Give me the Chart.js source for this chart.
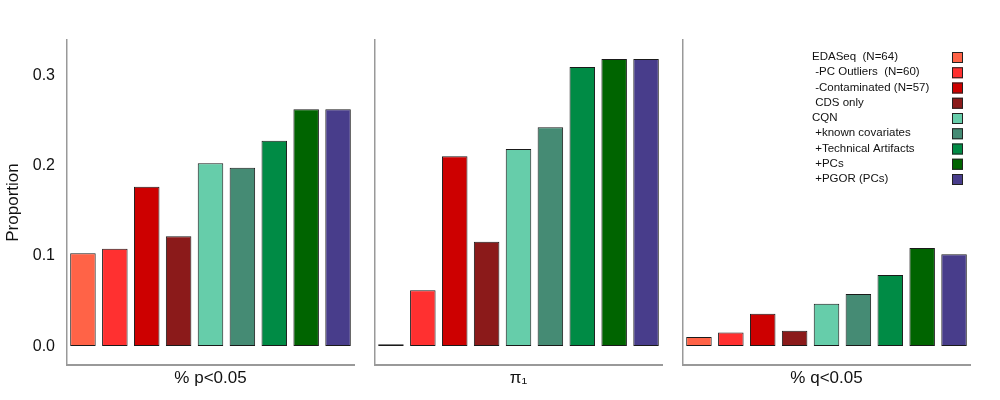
<!DOCTYPE html>
<html>
<head>
<meta charset="utf-8">
<script src="https://cdn.jsdelivr.net/npm/chart.js@4/dist/chart.umd.min.js"></script>
<style>
  body { margin: 0; background: #fff; }
  #wrap { position: relative; width: 1000px; height: 400px; }
  #wrap canvas { position: absolute; top: 0; }
</style>
</head>
<body>
<div id="wrap">
  <canvas id="c1" width="360" height="400" style="left:0px"></canvas>
  <canvas id="c2" width="360" height="400" style="left:308px"></canvas>
  <canvas id="c3" width="360" height="400" style="left:616px"></canvas>
</div>
<script>
// categories (legend entries, one bar each)
const categories = [
  "EDASeq  (N=64)", " -PC Outliers  (N=60)", " -Contaminated (N=57)", " CDS only",
  "CQN", " +known covariates", " +Technical Artifacts", " +PCs", " +PGOR (PCs)"
];
const barColors = ["#FF6347", "#FF3030", "#CD0000", "#8B1A1A", "#66CDAA",
                   "#458B74", "#008B45", "#006400", "#483D8B"];

// series values, one per panel
const pLess05 = [0.103, 0.108, 0.177, 0.122, 0.203, 0.198, 0.228, 0.263, 0.263];
const pi1     = [0.002, 0.062, 0.211, 0.116, 0.219, 0.243, 0.310, 0.319, 0.319];
const qLess05 = [0.010, 0.015, 0.036, 0.017, 0.047, 0.058, 0.079, 0.109, 0.102];

const panelTitles = ["% p<0.05", "\u03C0\u2081", "% q<0.05"];
const yTicks = [0, 0.1, 0.2, 0.3];

const FONT = "'Liberation Sans', Arial, Helvetica, sans-serif";

// legend drawn inside the last panel, text left and box right
const legendPlugin = {
  id: "sideLegend",
  afterDraw(chart) {
    if (!chart.options.plugins.sideLegend || !chart.options.plugins.sideLegend.show) return;
    const ctx = chart.ctx;
    ctx.save();
    ctx.font = "11.5px " + FONT;
    ctx.textBaseline = "middle";
    ctx.textAlign = "left";
    for (let i = 0; i < categories.length; i++) {
      const y = 57 + i * 15.25;
      ctx.fillStyle = "#111";
      ctx.fillText(categories[i], 196, y);
      ctx.fillStyle = barColors[i];
      ctx.fillRect(336, y - 5, 11, 11);
      ctx.strokeStyle = "#222";
      ctx.lineWidth = 1;
      ctx.strokeRect(336.5, y - 4.5, 10, 10);
    }
    ctx.restore();
  }
};

function makePanel(id, values, title, first, showLegend) {
  new Chart(document.getElementById(id), {
    type: "bar",
    data: {
      labels: categories,
      datasets: [{
        data: values,
        backgroundColor: barColors,
        borderColor: "#1a1a1a",
        borderWidth: 1,
        borderSkipped: false,
        barPercentage: 0.8,
        categoryPercentage: 1.0
      }]
    },
    options: {
      responsive: false,
      animation: false,
      layout: { padding: { top: 40, right: 6, bottom: 0, left: 0 } },
      plugins: {
        legend: { display: false },
        tooltip: { enabled: false },
        sideLegend: { show: showLegend }
      },
      scales: {
        x: {
          grid: { display: false, drawTicks: false },
          border: { display: true, color: "#999", width: 2 },
          ticks: { display: false },
          title: {
            display: true, text: title, color: "#111",
            font: { family: FONT, size: 17 },
            padding: { top: 0, bottom: 11 }
          },
          afterFit: function(s) { s.height = 35; }
        },
        y: {
          min: -0.021,
          max: 0.34,
          grid: { display: false, drawTicks: false },
          border: { display: true, color: "#999", width: 1.5 },
          afterBuildTicks: function(s) { s.ticks = yTicks.map(v => ({ value: v })); },
          ticks: {
            display: first,
            color: "#111",
            padding: 12,
            font: { family: FONT, size: 16 },
            callback: v => Number(v).toFixed(1)
          },
          title: {
            display: first, text: "Proportion", color: "#111",
            font: { family: FONT, size: 17 },
            padding: { top: 3, bottom: 0 }
          },
          afterFit: function(s) { s.width = 67; }
        }
      }
    },
    plugins: [legendPlugin]
  });
}

makePanel("c1", pLess05, panelTitles[0], true, false);
makePanel("c2", pi1, panelTitles[1], false, false);
makePanel("c3", qLess05, panelTitles[2], false, true);
</script>
</body>
</html>
